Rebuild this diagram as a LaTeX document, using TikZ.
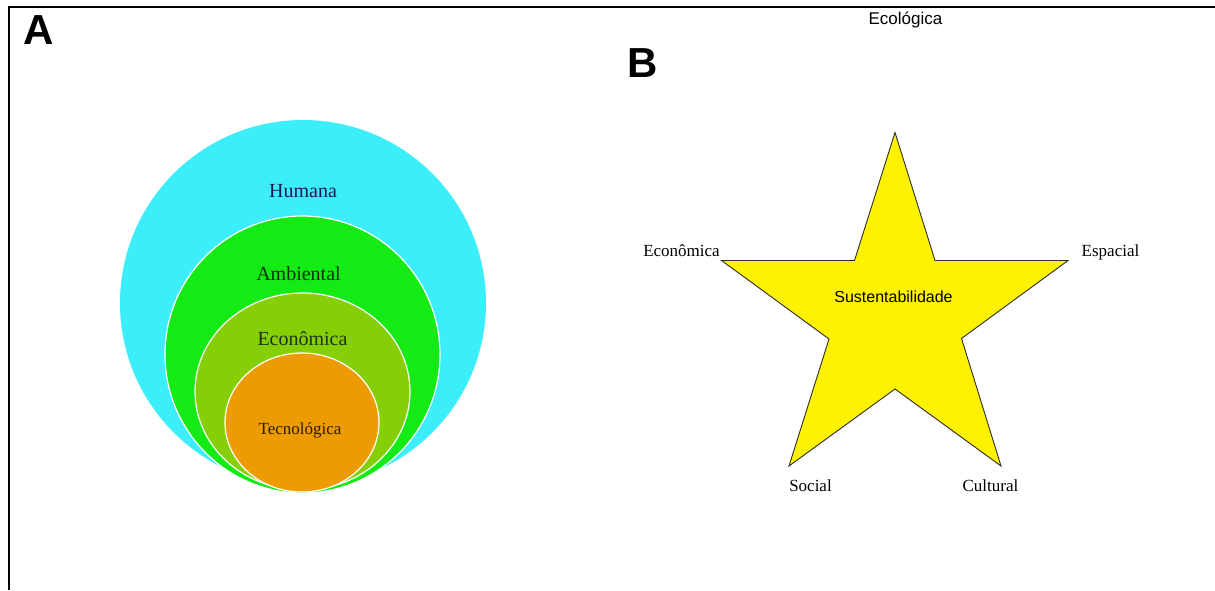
\documentclass[tikz,border=0pt]{standalone}
\usepackage{fontspec}
\setmainfont{Liberation Serif}
\newfontfamily\arialf{Liberation Sans}
\definecolor{cyanc}{RGB}{60,238,250}
\definecolor{greenc}{RGB}{20,234,20}
\definecolor{olivec}{RGB}{134,206,6}
\definecolor{orangec}{RGB}{236,156,0}
\definecolor{stroke}{RGB}{45,45,45}
\begin{document}
\begin{tikzpicture}[x=1pt,y=-1pt,
  panel/.style={font=\arialf\bfseries\fontsize{42}{42}\selectfont},
  ring/.style={draw=white,line width=1.2pt},
  ringtext/.style={anchor=base,font=\fontsize{20}{20}\selectfont},
  starlabel/.style={anchor=base,font=\fontsize{17}{17}\selectfont},
  startip/.style={fill=yellow,draw=stroke,line width=0.9pt,line join=miter}]
\useasboundingbox (0,0) rectangle (1215,590);
\fill[white] (0,0) rectangle (1215,590);
% frame
\draw[line width=2pt] (9,590) -- (9,6.5) -- (1215,6.5);
% panel letters
\node[panel] (A) at (38.5,30.5) {A};
\node[panel] (B) at (643,63.5) {B};
% concentric rings
\fill[cyanc] (303,303) circle (183);
\draw[ring,fill=greenc] (302.5,354.5) ellipse [x radius=137.5,y radius=138.5];
\draw[ring,fill=olivec] (302.5,391.5) ellipse [x radius=107.5,y radius=98.5];
\draw[ring,fill=orangec] (302,422.5) ellipse [x radius=77,y radius=69.5];
\node[ringtext,text={rgb,255:red,25;green,25;blue,80}] (humana) at (303,197) {Humana};
\node[ringtext,text={rgb,255:red,10;green,50;blue,10}] (ambiental) at (298.5,280.5) {Ambiental};
\node[ringtext,text={rgb,255:red,30;green,50;blue,20}] (economica) at (302.5,345) {Econômica};
\node[ringtext,text={rgb,255:red,50;green,25;blue,5},font=\fontsize{17}{17}\selectfont] (tecno) at (300,434) {Tecnológica};
% star
\coordinate (sT) at (895,132.5);
\coordinate (iTR) at (935,260.5);
\coordinate (sR) at (1068,260.5);
\coordinate (iR) at (961.5,338.5);
\coordinate (sBR) at (1001,466);
\coordinate (iB) at (895,389);
\coordinate (sBL) at (789,466);
\coordinate (iL) at (829,339);
\coordinate (sL) at (721.5,260.5);
\coordinate (iTL) at (854.5,260.5);
\draw[startip] (sT) -- (iTR) -- (sR) -- (iR) -- (sBR) -- (iB) -- (sBL) -- (iL) -- (sL) -- (iTL) -- cycle;
\node[anchor=base,font=\arialf\fontsize{16}{16}\selectfont] (sust) at (893.5,302.5) {Sustentabilidade};
\node[anchor=base,font=\arialf\fontsize{17}{17}\selectfont] (ecol) at (905.5,24) {Ecológica};
\node[starlabel] (econ2) at (681.5,256) {Econômica};
\node[starlabel] (espacial) at (1110.5,256) {Espacial};
\node[starlabel] (social) at (810.5,491.5) {Social};
\node[starlabel] (cultural) at (990.5,491.5) {Cultural};
\end{tikzpicture}
\end{document}
